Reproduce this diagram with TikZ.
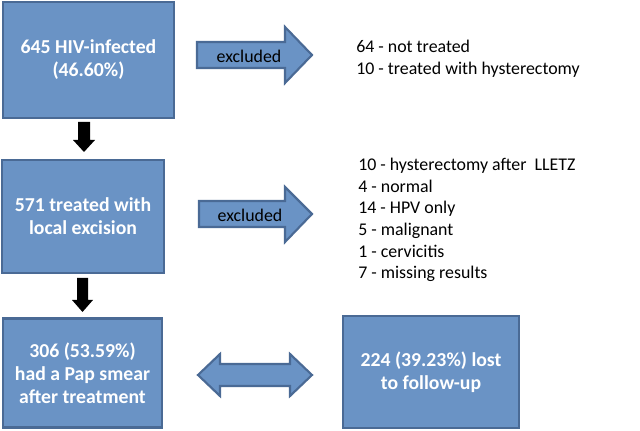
\documentclass[tikz,border=0pt]{standalone}
\usepackage{fontspec}
\setmainfont{Carlito}
\definecolor{boxfill}{HTML}{6A93C5}
\definecolor{boxline}{HTML}{4A6A95}
\begin{document}
\begin{tikzpicture}[x=0.75pt,y=-0.75pt,
  box/.style={draw=boxline,line width=2.2pt,fill=boxfill,text=white,
    font=\fontsize{14.8}{17.3}\selectfont\bfseries,align=center,inner sep=0pt},
  blockarrow/.style={draw=boxline,line width=1.6pt,fill=boxfill,line join=miter},
  downarrow/.style={fill=black},
  listtext/.style={font=\fontsize{13.4}{16.3}\selectfont,align=left,anchor=west,inner sep=0pt},
  arrowlabel/.style={font=\fontsize{13.4}{15}\selectfont,inner sep=0pt}]
\useasboundingbox (0,0) rectangle (640,431);
\fill[white] (0,0) rectangle (640,431);
% boxes
\node[box,minimum width=171*0.75pt,minimum height=116*0.75pt] (b1) at (88.5,60) {645 HIV-infected\\(46.60\%)};
\node[box,minimum width=162*0.75pt,minimum height=113*0.75pt] (b2) at (83,216.5) {571 treated with\\local excision};
\node[box,minimum width=159*0.75pt,minimum height=109*0.75pt] (b3) at (82.5,373) {306 (53.59\%)\\had a Pap smear\\after treatment};
\node[box,minimum width=176*0.75pt,minimum height=112*0.75pt] (b4) at (431,372) {224 (39.23\%) lost\\to follow-up};
% block arrows
\draw[blockarrow] (197,42) -- (285,42) -- (285,27) -- (312,55) -- (285,83) -- (285,68) -- (197,68) -- cycle;
\node[arrowlabel] (e1) at (249,56) {excluded};
\draw[blockarrow] (199,201) -- (285,201) -- (285,187) -- (312,214) -- (285,242) -- (285,227) -- (199,227) -- cycle;
\node[arrowlabel] (e2) at (250,215) {excluded};
\draw[blockarrow] (198,375) -- (220,354) -- (220,364) -- (290,364) -- (290,354) -- (312,375) -- (290,396) -- (290,386) -- (220,386) -- (220,396) -- cycle;
% down arrows
\fill[downarrow] (78,122) -- (90,122) -- (90,140) -- (95,140) -- (84,152) -- (73,140) -- (78,140) -- cycle;
\fill[downarrow] (77,278) -- (88,278) -- (88,300) -- (93,300) -- (82.5,312) -- (72,300) -- (77,300) -- cycle;
% lists
\node[listtext] (l1) at (356,59) {64 - not treated\\10 - treated with hysterectomy};
\node[listtext] (l2) at (358,220) {10 - hysterectomy after\ \ LLETZ\\4 - normal\\14 - HPV only\\5 - malignant\\1 - cervicitis\\7 - missing results};
\end{tikzpicture}
\end{document}
